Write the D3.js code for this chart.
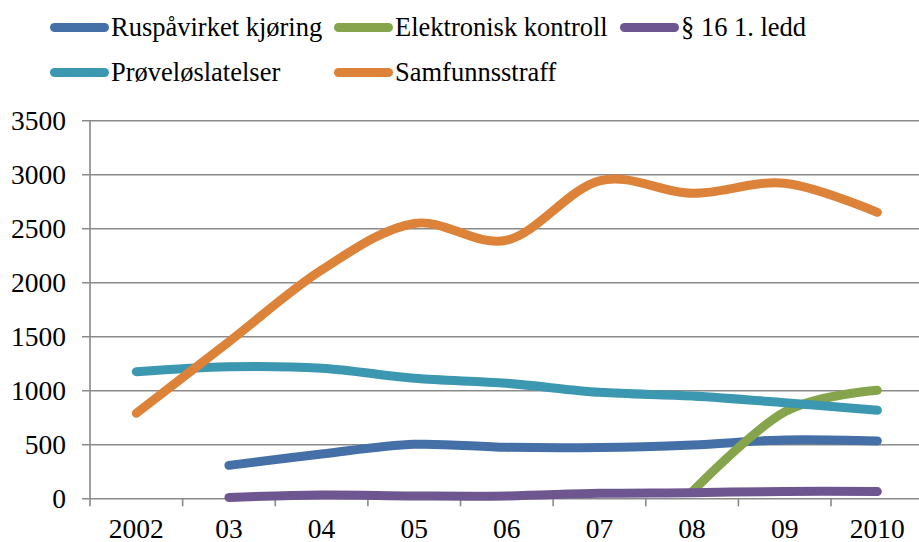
<!DOCTYPE html>
<html>
<head>
<meta charset="utf-8">
<script src="https://cdn.jsdelivr.net/npm/d3@7"></script>
<style>
  html, body { margin: 0; padding: 0; background: #fff; }
  svg { display: block; }
  svg text { font-family: "Liberation Serif", serif; fill: #000; }
</style>
</head>
<body>
<svg id="chart" width="919" height="542"></svg>
<script>
// Years on the category axis
const years = ["2002", "03", "04", "05", "06", "07", "08", "09", "2010"];
const yTicks = [0, 500, 1000, 1500, 2000, 2500, 3000, 3500];

// Series values per year (null = no data)
const ruspavirket    = [null, 305, 410, 500, 472, 470, 494, 540, 531];
const elektronisk    = [null, null, null, null, null, null, 60, 800, 1000];
const paragraf16     = [null, 8, 30, 22, 22, 46, 52, 64, 62];
const proveloslat    = [1172, 1218, 1204, 1111, 1065, 981, 947, 885, 815];
const samfunnsstraff = [787, 1450, 2114, 2545, 2390, 2940, 2824, 2917, 2648];

const seriesNames  = ["Ruspåvirket kjøring", "Elektronisk kontroll", "§ 16 1. ledd", "Prøveløslatelser", "Samfunnsstraff"];
const seriesValues = [ruspavirket, elektronisk, paragraf16, proveloslat, samfunnsstraff];
const seriesColors = ["#4470a7", "#86a44b", "#6e5691", "#3c97b0", "#dc8239"];

const FONT = '"Liberation Serif", serif';

const svg = d3.select("#chart");
const W = 919, H = 542;
svg.append("rect").attr("width", W).attr("height", H).attr("fill", "#fff");

const plotLeft = 90, plotTop = 120.3, plotBottom = 498.3;
const band = 92.63;

const x = d3.scaleBand()
  .domain(years)
  .range([plotLeft, plotLeft + band * years.length])
  .paddingInner(0).paddingOuter(0);

const y = d3.scaleLinear().domain([0, 3500]).range([plotBottom, plotTop]);

const gridColor = "#8a8a8a";

// Horizontal gridlines with outside tick marks on the left
const yAxis = d3.axisLeft(y).tickValues(yTicks).tickFormat(d3.format("d")).tickSize(0).tickPadding(24);
const gy = svg.append("g").attr("transform", `translate(${plotLeft},0)`).call(yAxis)
  .attr("font-family", FONT).attr("font-size", null);
gy.select(".domain").remove();
gy.selectAll(".tick text")
  .style("font-family", FONT)
  .style("font-size", "27.5px")
  .attr("fill", "#000")
  .attr("dy", "0.34em");
gy.selectAll(".tick").append("line")
  .attr("x1", -8).attr("x2", W - plotLeft)
  .attr("stroke", gridColor).attr("stroke-width", 1.6);

// Vertical axis line
svg.append("line")
  .attr("x1", plotLeft).attr("x2", plotLeft)
  .attr("y1", plotTop).attr("y2", plotBottom + 8)
  .attr("stroke", gridColor).attr("stroke-width", 1.6);

// Category axis: tick marks sit on band boundaries, labels centred in bands
const gx = svg.append("g").attr("transform", `translate(0,${plotBottom})`);
gx.selectAll("line.tick")
  .data(years.slice(1))
  .join("line")
  .attr("class", "tick")
  .attr("x1", d => x(d)).attr("x2", d => x(d))
  .attr("y1", 0).attr("y2", 8)
  .attr("stroke", gridColor).attr("stroke-width", 1.6);
gx.selectAll("text")
  .data(years)
  .join("text")
  .attr("x", d => x(d) + x.bandwidth() / 2)
  .attr("y", 40)
  .attr("text-anchor", "middle")
  .style("font-family", FONT)
  .style("font-size", "27.5px")
  .text(d => d);

// Smoothed series lines
const line = d3.line()
  .defined(d => d.v !== null)
  .x(d => x(d.year) + x.bandwidth() / 2)
  .y(d => y(d.v))
  .curve(d3.curveCardinal.tension(0));

seriesValues.forEach((vals, i) => {
  const pts = years.map((yr, j) => ({ year: yr, v: vals[j] }));
  svg.append("path")
    .datum(pts)
    .attr("d", line)
    .attr("fill", "none")
    .attr("stroke", seriesColors[i])
    .attr("stroke-width", 9)
    .attr("stroke-linecap", "round")
    .attr("stroke-linejoin", "round");
});

// Legend
const legendPos = [
  { x: 50, y: 27.5 }, { x: 334, y: 27.5 }, { x: 620, y: 27.5 },
  { x: 50, y: 72.5 }, { x: 334, y: 72.5 }
];
const legend = svg.append("g");
seriesNames.forEach((name, i) => {
  const p = legendPos[i];
  legend.append("line")
    .attr("x1", p.x + 4.5).attr("x2", p.x + 54.5)
    .attr("y1", p.y).attr("y2", p.y)
    .attr("stroke", seriesColors[i])
    .attr("stroke-width", 9)
    .attr("stroke-linecap", "round");
  legend.append("text")
    .attr("x", p.x + 61)
    .attr("y", p.y + 8.8)
    .style("font-family", FONT)
    .style("font-size", "26.5px")
    .text(name);
});
</script>
</body>
</html>
